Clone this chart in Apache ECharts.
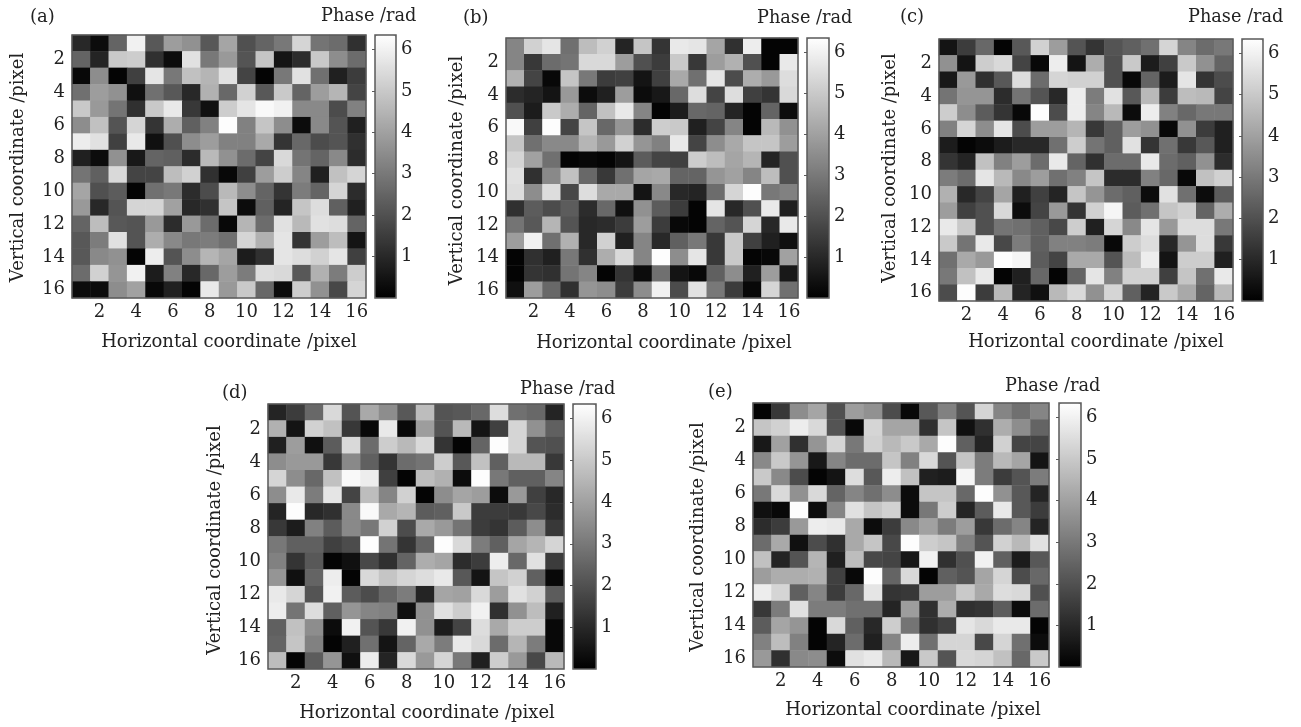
<!DOCTYPE html>
<html><head><meta charset="utf-8">
<style>html,body{margin:0;padding:0;background:#fff}#c{width:1301px;height:727px;filter:blur(0.45px)}</style>
<script src="https://cdn.jsdelivr.net/npm/echarts@6/dist/echarts.min.js"></script></head>
<body><div id="c"></div>
<script>
const pixels=['1','2','3','4','5','6','7','8','9','10','11','12','13','14','15','16'];
const panelNames=['(a)','(b)','(c)','(d)','(e)'];
const colorbarTitle='Phase /rad';
const xAxisTitle='Horizontal coordinate /pixel';
const yAxisTitle='Vertical coordinate /pixel';
const phaseA=[
[1.0,.3,2.5,6.0,2.2,3.9,3.6,2.2,4.1,2.0,2.5,3.0,5.3,2.9,2.7,1.2],
[2.5,.9,5.0,5.1,1.2,.3,5.6,3.0,3.8,2.1,4.9,.5,1.1,5.0,3.5,2.7],
[.2,3.5,.1,1.6,5.7,3.0,4.8,4.5,5.6,1.7,.1,3.0,5.6,2.8,.8,1.5],
[2.8,3.9,3.6,.4,2.8,2.2,1.0,4.4,2.6,5.2,2.2,5.0,2.5,3.9,4.5,1.7],
[5.0,3.8,2.9,1.2,5.0,5.8,1.4,.4,5.1,5.7,6.2,6.0,3.4,3.4,1.9,3.2],
[3.5,4.8,2.1,5.3,1.3,4.3,2.4,3.2,6.3,3.2,4.9,3.5,.3,3.4,2.1,.8],
[5.9,5.6,1.6,5.8,.4,2.0,3.5,3.9,3.2,3.2,4.2,1.3,2.6,1.9,2.1,1.2],
[.8,.3,3.6,.6,2.5,2.4,1.1,4.6,3.6,2.7,1.7,5.4,2.9,2.5,3.4,1.1],
[2.9,2.4,5.4,1.7,1.7,4.7,5.2,1.2,.2,1.6,3.9,5.1,3.3,.8,4.8,5.3],
[4.1,2.0,2.3,.1,2.8,3.0,1.1,1.9,4.6,3.5,2.5,1.3,3.1,2.5,5.3,1.1],
[3.8,1.0,2.1,5.3,5.3,4.0,1.0,1.2,4.9,.3,2.4,.9,4.9,5.5,2.4,.8],
[2.5,4.7,2.2,2.1,3.8,1.1,3.8,2.7,.2,4.5,2.7,5.6,4.6,5.6,5.5,2.5],
[2.2,3.1,5.6,2.1,4.3,3.4,3.0,3.1,2.8,5.3,4.4,5.7,1.3,3.9,4.7,.5],
[2.2,3.4,3.6,.1,5.9,2.1,3.5,4.5,4.1,.7,1.2,5.7,5.5,5.2,5.7,1.6],
[2.7,5.2,3.7,6.0,.7,3.2,1.0,2.6,3.9,3.1,5.5,5.4,2.2,4.4,3.1,5.1],
[.3,.3,3.5,4.0,.2,.8,.1,5.8,3.8,5.0,2.6,.3,5.1,3.6,1.8,5.3]];
const phaseB=[
[3.3,5.2,5.7,2.8,4.7,5.2,.9,4.9,1.3,5.8,5.7,4.1,1.2,5.9,.1,.1],
[3.3,1.4,2.7,2.9,5.4,5.4,3.9,2.0,1.5,5.0,1.4,3.9,4.4,2.0,.1,5.8],
[4.4,1.7,.2,4.9,3.0,1.5,1.6,.5,1.6,4.2,2.8,5.7,1.9,4.3,3.8,5.5],
[1.1,.9,.5,3.8,.3,.8,3.9,.3,.6,2.6,5.5,1.7,5.5,1.6,1.3,5.4],
[2.0,.7,5.0,4.3,2.5,4.8,5.8,3.3,.1,.7,2.6,2.5,.9,.1,2.5,.3],
[6.2,1.6,6.3,1.7,4.9,2.6,3.7,1.1,5.1,5.0,.8,1.7,3.3,.1,4.6,3.6],
[4.9,2.8,3.4,3.4,4.5,3.8,5.2,3.7,3.2,5.8,1.7,3.5,4.2,4.9,4.9,3.9],
[5.3,4.0,2.8,.1,.2,.1,.5,2.3,1.7,1.6,5.1,4.7,4.1,4.5,.9,2.0],
[5.6,1.2,3.4,4.8,2.6,1.4,2.8,4.1,4.2,2.5,2.5,3.7,4.0,3.3,4.7,2.0],
[5.5,3.5,5.5,1.8,5.5,4.2,4.2,.5,3.4,1.0,.9,2.7,5.3,6.3,3.0,3.2],
[1.2,2.3,1.9,2.3,1.1,2.6,.4,3.6,2.3,1.5,.1,5.7,1.0,2.0,5.8,.8],
[2.9,2.2,4.5,2.1,1.0,1.1,1.5,3.9,1.5,.2,.1,2.5,2.1,5.3,1.0,5.8],
[3.9,6.0,2.8,4.4,1.0,5.2,.8,3.3,1.0,2.4,3.0,1.4,5.0,1.6,.8,.4],
[.1,1.2,.8,3.0,1.2,4.3,5.4,3.3,6.3,3.5,5.7,1.4,5.0,.1,.2,4.0],
[.1,1.3,1.2,2.9,3.3,.1,1.3,.3,2.8,.5,.2,2.4,3.5,.8,3.9,.6],
[.4,3.9,2.6,1.2,3.7,3.5,1.5,3.5,6.0,1.9,5.6,3.0,1.5,.2,5.3,2.8]];
const phaseC=[
[.5,1.5,2.6,.1,2.2,5.2,3.9,2.1,1.3,2.1,2.4,2.8,5.3,3.3,2.7,3.0],
[3.6,.5,5.1,5.4,1.7,.2,5.9,.5,4.3,2.0,5.0,.7,1.6,5.0,3.6,2.5],
[.6,3.8,1.2,2.2,5.5,2.7,5.3,5.2,5.2,2.0,.2,2.5,.7,5.7,1.3,1.9],
[2.9,3.7,3.7,1.1,2.9,2.1,1.0,5.9,3.1,5.6,2.2,4.6,1.5,4.7,4.6,1.7],
[5.1,3.5,2.3,1.3,.2,6.3,1.9,5.9,3.3,4.6,.3,5.9,3.2,2.6,3.0,3.0],
[3.2,5.3,3.5,5.7,1.9,3.9,3.9,4.5,1.4,2.4,3.9,3.6,.2,3.6,1.5,.8],
[.7,.1,.3,.7,1.0,1.0,2.8,5.1,2.9,2.4,5.6,1.3,2.8,1.4,2.2,.8],
[1.3,.9,4.8,3.2,3.9,2.7,5.8,2.5,1.2,2.7,2.7,5.8,2.7,2.4,3.6,1.1],
[3.1,2.7,5.7,4.6,3.4,3.9,2.8,3.2,4.9,1.1,1.1,3.2,2.6,.2,4.8,5.2],
[4.4,1.0,1.7,4.1,.8,1.6,.9,4.9,3.7,2.7,2.4,.3,5.6,2.8,.3,2.3],
[3.9,1.6,2.0,5.4,.3,1.7,3.8,1.3,5.2,6.1,2.3,2.8,4.9,5.2,2.5,4.3],
[5.8,5.0,2.0,2.9,2.8,2.4,1.8,5.1,.8,5.3,3.4,5.7,3.8,5.5,5.5,3.0],
[5.0,2.9,5.8,1.8,3.1,2.4,3.2,3.2,3.1,.2,5.1,5.5,1.0,3.7,5.5,1.4],
[2.8,4.2,3.8,6.3,6.1,2.3,1.7,4.2,4.2,2.1,4.7,5.9,.5,5.1,5.1,.8],
[3.0,4.8,5.8,.1,.8,2.6,.1,2.5,5.7,3.2,5.2,5.2,1.6,4.9,2.8,5.8],
[1.9,6.3,1.5,4.6,.9,.4,4.6,5.4,3.6,5.3,2.4,.9,5.0,4.2,2.5,4.6]];
const phaseD=[
[.9,1.5,2.6,5.4,2.1,4.2,3.5,2.2,4.7,2.1,2.2,2.6,5.5,2.8,2.6,.9],
[4.4,.5,5.2,4.8,1.4,.2,5.8,.2,3.9,2.1,4.6,.5,1.6,5.3,3.6,2.4],
[.8,3.9,.4,2.3,5.4,2.7,5.1,4.6,5.4,1.3,.1,2.5,6.3,5.3,2.1,2.0],
[3.5,3.8,3.8,1.4,3.4,2.4,1.3,2.7,2.9,5.1,2.2,4.8,2.4,4.6,4.6,1.4],
[5.3,3.5,2.6,4.8,6.2,5.9,1.6,.1,4.7,4.4,.3,6.3,3.0,2.4,2.4,3.3],
[3.5,5.8,3.1,5.7,1.7,4.7,3.3,5.2,.1,3.5,4.1,3.9,.3,3.8,1.6,1.0],
[.9,6.3,1.0,1.2,3.4,6.2,4.2,4.5,2.3,2.4,5.0,1.5,1.5,1.4,1.8,1.1],
[1.4,.7,3.2,2.3,3.4,3.0,5.2,1.9,4.2,3.8,2.9,1.5,1.3,2.3,3.5,1.4],
[3.0,2.4,2.4,1.6,1.9,6.3,2.9,1.3,2.5,6.3,5.4,3.1,2.4,4.1,4.5,5.3],
[3.2,1.3,2.2,.1,.4,1.8,1.2,2.5,4.3,4.1,1.1,1.5,5.9,2.6,5.6,1.5],
[3.7,.4,2.5,5.9,.1,5.4,4.9,5.3,5.5,5.8,2.2,.5,4.9,5.2,2.4,.2],
[5.8,5.3,2.1,6.0,2.3,1.9,2.6,3.1,.9,4.1,4.0,5.4,3.9,5.6,5.2,2.3],
[5.9,2.9,5.5,2.4,3.7,3.3,3.2,.4,3.6,5.6,5.1,6.0,1.2,3.6,4.7,.8],
[2.4,4.8,3.5,.3,6.0,2.1,1.4,6.0,3.6,.7,1.7,5.5,4.2,5.1,5.1,.2],
[2.5,4.9,3.2,.1,.8,2.8,.5,2.5,4.2,3.1,5.8,5.4,2.7,4.5,3.1,.2],
[4.7,.1,2.3,3.7,.4,5.9,.9,5.4,3.8,5.3,3.0,.8,5.1,3.8,1.8,4.6]];
const phaseE=[
[.1,1.4,3.5,4.1,2.0,3.9,3.6,1.9,.2,2.2,3.2,2.1,5.3,3.3,2.8,3.3],
[4.9,5.2,5.9,5.4,2.1,.2,5.3,4.1,4.1,1.2,4.9,.4,1.2,4.3,3.5,2.5],
[.6,4.0,1.2,3.7,5.3,3.0,5.2,4.6,5.0,4.2,6.3,2.4,.9,5.2,1.7,1.7],
[3.4,5.0,3.7,.6,3.3,2.7,2.7,4.9,3.2,5.4,2.1,4.9,3.1,4.6,4.1,.5],
[5.0,3.4,1.9,.1,.5,5.5,2.2,5.9,4.8,.8,.7,6.1,3.1,1.5,2.1,3.1],
[3.0,5.4,3.6,5.4,2.5,3.3,2.8,3.5,.3,4.9,4.9,2.6,6.3,3.6,2.2,.9],
[.4,.2,6.3,.3,3.3,5.6,4.9,5.2,.3,3.0,5.1,.9,2.3,5.8,2.2,1.5],
[1.1,1.5,3.8,5.9,5.8,4.2,.3,1.5,3.4,4.0,3.1,3.9,1.4,2.7,3.3,.9],
[2.7,4.2,.4,1.9,1.2,4.2,4.9,1.8,6.3,5.1,4.9,3.2,2.1,5.2,4.6,5.6],
[4.8,.9,2.1,4.5,.8,4.7,1.8,1.7,.6,6.0,1.2,2.0,6.0,2.4,.7,2.2],
[3.9,4.3,4.3,4.4,1.6,.2,6.3,2.5,5.4,.1,2.4,2.1,4.1,5.3,1.9,2.6],
[5.9,5.3,2.4,3.3,1.5,2.6,5.7,1.3,1.4,3.9,3.9,5.0,4.2,5.5,5.4,2.0],
[1.4,3.1,5.6,3.1,3.1,2.8,2.8,.9,3.9,1.2,4.3,1.2,1.3,2.3,.3,2.7],
[2.3,4.1,3.7,.1,5.4,2.4,1.0,5.1,2.9,1.2,1.6,5.7,5.4,5.8,5.8,.1],
[3.2,4.7,3.2,.1,.9,2.7,.8,3.3,5.9,2.8,5.3,5.3,1.8,5.3,2.8,.3],
[3.8,1.2,3.4,3.5,.3,5.6,5.8,4.6,.6,5.0,2.1,5.4,5.3,4.8,2.6,5.0]];
const panelValues=[phaseA,phaseB,phaseC,phaseD,phaseE];

// xs / ys: how far the axis titles sit from the centre of their axis
const layout=[
 {box:[72,35,366,298],cb:[375,396],tag:[30,8],ph:[321,7],xn:342,yn:18,xs:10,ys:1},
 {box:[506,38,798,298],cb:[807,829],tag:[463,9],ph:[757,9],xn:343,yn:457,xs:12,ys:2.5},
 {box:[939,39,1233,301],cb:[1242,1263],tag:[900,8],ph:[1188,8],xn:342,yn:890,xs:10,ys:-2},
 {box:[268,404,564,669],cb:[573,596],tag:[222,384],ph:[520,380],xn:713,yn:215,xs:11,ys:3.5},
 {box:[753,403,1049,667],cb:[1059,1081],tag:[708,383],ph:[1005,377],xn:710,yn:698,xs:12,ys:2}
];
const FONT='"DejaVu Serif"';
const INK='#222222', FRAME='#5a5a5a';
const MAXV=6.35, TITLE=18, TICK=18;
const even=(i,v)=>(+v)%2===0;
const grid=[],xAxis=[],yAxis=[],series=[],visualMap=[],title=[];
layout.forEach((p,i)=>{
  const [x0,y0,x1,y1]=p.box;
  grid.push({left:x0,top:y0,width:x1-x0,height:y1-y0,show:true,borderColor:FRAME,borderWidth:1.5,backgroundColor:'transparent',z:5});
  xAxis.push({type:'category',gridIndex:i,data:pixels,position:'bottom',
    name:xAxisTitle,nameLocation:'middle',nameGap:p.xn-y1-9,
    nameTextStyle:{fontFamily:FONT,fontSize:TITLE,color:INK,padding:[0,0,0,2*p.xs]},
    axisLine:{show:false},axisTick:{show:true,inside:true,length:3,alignWithLabel:true,interval:even,lineStyle:{color:FRAME}},
    axisLabel:{interval:even,margin:5,fontFamily:FONT,fontSize:TICK,color:INK},splitLine:{show:false}});
  yAxis.push({type:'category',gridIndex:i,data:pixels,inverse:true,position:'left',
    name:yAxisTitle,nameLocation:'middle',nameGap:x0-p.yn-9,nameRotate:90,
    nameTextStyle:{fontFamily:FONT,fontSize:TITLE,color:INK,padding:p.ys>=0?[0,2*p.ys,0,0]:[0,0,0,-2*p.ys]},
    axisLine:{show:false},axisTick:{show:true,inside:true,length:3,alignWithLabel:true,interval:even,lineStyle:{color:FRAME}},
    axisLabel:{interval:even,margin:7,fontFamily:FONT,fontSize:TICK,color:INK},splitLine:{show:false}});
  const cells=[];
  panelValues[i].forEach((row,r)=>row.forEach((v,c)=>cells.push([c,r,v])));
  series.push({type:'heatmap',xAxisIndex:i,yAxisIndex:i,data:cells,silent:true,progressive:0,animation:false});
  visualMap.push({type:'continuous',seriesIndex:i,min:0,max:MAXV,left:p.cb[0],top:y0,
    itemWidth:p.cb[1]-p.cb[0],itemHeight:y1-y0,padding:0,calculable:false,hoverLink:false,text:null,showLabel:false,
    inRange:{color:['#000000','#ffffff']},outOfRange:{color:['#000000']},textStyle:{color:'transparent',fontSize:1}});
  title.push({text:panelNames[i],left:p.tag[0],top:p.tag[1],padding:0,textStyle:{fontFamily:FONT,fontSize:TITLE,fontWeight:'normal',color:INK}});
  title.push({text:colorbarTitle,left:p.ph[0],top:p.ph[1],padding:0,textStyle:{fontFamily:FONT,fontSize:17.7,fontWeight:'normal',color:INK}});
});
layout.forEach((p,i)=>{
  const [,y0,,y1]=p.box, idx=layout.length+i;
  grid.push({left:p.cb[0],top:y0,width:p.cb[1]-p.cb[0],height:y1-y0,show:true,borderColor:FRAME,borderWidth:1.5,backgroundColor:'transparent',z:6});
  xAxis.push({type:'value',gridIndex:idx,min:0,max:1,show:false});
  yAxis.push({type:'value',gridIndex:idx,min:0,max:MAXV,interval:1,position:'right',
    axisLine:{show:false},splitLine:{show:false},
    axisTick:{show:true,inside:true,length:3,lineStyle:{color:FRAME}},
    axisLabel:{show:true,margin:5,fontFamily:FONT,fontSize:TICK,color:INK,showMinLabel:false,showMaxLabel:false,
      formatter:v=>(v>0&&Number.isInteger(v))?String(v):''}});
  series.push({type:'scatter',xAxisIndex:idx,yAxisIndex:idx,data:[],silent:true});
});
const chart=echarts.init(document.getElementById('c'),null,{renderer:'canvas'});
chart.setOption({animation:false,backgroundColor:'#ffffff',tooltip:{show:false},grid,xAxis,yAxis,series,visualMap,title});
</script></body></html>
